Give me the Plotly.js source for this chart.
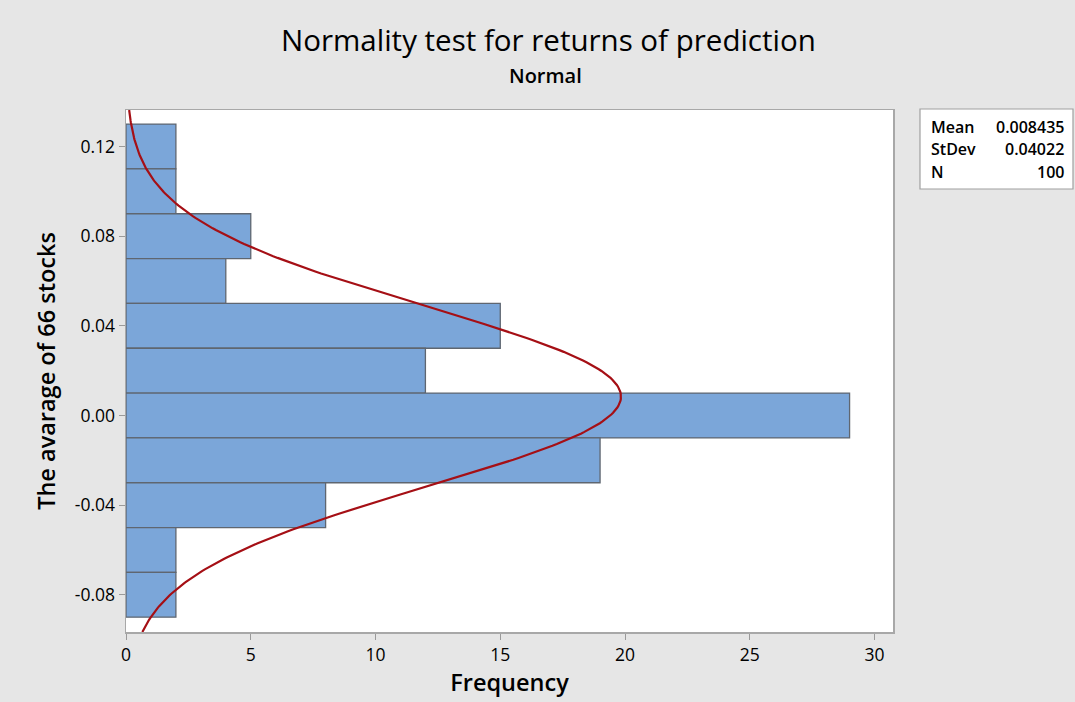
<!DOCTYPE html>
<html>
<head>
<meta charset="utf-8">
<script src="https://cdn.plot.ly/plotly-3.0.1.min.js"></script>
<style>html,body{margin:0;padding:0;background:#e6e6e6;}#chart{width:1075px;height:702px;}</style>
</head>
<body>
<div id="chart"></div>
<script>
// Histogram data (bin centres and frequencies)
const binCenters = [0.12, 0.10, 0.08, 0.06, 0.04, 0.02, 0.00, -0.02, -0.04, -0.06, -0.08];
const frequencies = [2, 2, 5, 4, 15, 12, 29, 19, 8, 2, 2];
const binWidth = 0.02;
// Fitted normal statistics
const statLabels = ["Mean", "StDev", "N"];
const statValues = ["0.008435", "0.04022", "100"];
const meanVal = 0.008435, sdVal = 0.04022, nVal = 100;
// Tick labels
const yTickVals = [-0.08, -0.04, 0.00, 0.04, 0.08, 0.12];
const yTickText = ["-0.08", "-0.04", "0.00", "0.04", "0.08", "0.12"];
const xTickVals = [0, 5, 10, 15, 20, 25, 30];

const yMin = -0.0966, yMax = 0.1363;

// fitted normal curve scaled to histogram
const curveY = [], curveX = [];
const steps = 300;
for (let i = 0; i <= steps; i++) {
  const y = yMin + (yMax - yMin) * i / steps;
  const z = (y - meanVal) / sdVal;
  curveY.push(y);
  curveX.push(nVal * binWidth * Math.exp(-0.5 * z * z) / (sdVal * Math.sqrt(2 * Math.PI)));
}

const font = "Open Sans, Noto Sans, sans-serif";

const traces = [
  {
    type: 'bar', orientation: 'h',
    y: binCenters, x: frequencies, width: binWidth,
    marker: {color: '#7ba6d9', line: {color: '#5f6670', width: 1.3}},
    hoverinfo: 'x+y'
  },
  {
    type: 'scatter', mode: 'lines',
    x: curveX, y: curveY,
    line: {color: '#a50f15', width: 2.2},
    hoverinfo: 'skip'
  }
];

const L = 126, R = 893, T = 110, B = 632;
const W = R - L, H = B - T;
const px = x => (x - L) / W;
const py = y => (B - y) / H;

const annotations = [
  {text: 'Normality test for returns of prediction', xref: 'paper', yref: 'paper',
   x: px(548), y: py(40), showarrow: false, xanchor: 'center', yanchor: 'middle',
   font: {family: font, size: 29.5, color: '#000'}},
  {text: 'Normal', xref: 'paper', yref: 'paper',
   x: px(545), y: py(76), showarrow: false, xanchor: 'center', yanchor: 'middle',
   font: {family: font, size: 20, color: '#000', weight: 600}}
];
const rowY = [127, 149, 172];
for (let i = 0; i < statLabels.length; i++) {
  annotations.push({text: statLabels[i], xref: 'paper', yref: 'paper', x: px(929), y: py(rowY[i]),
    showarrow: false, xanchor: 'left', yanchor: 'middle', font: {family: font, size: 16, color: '#000', weight: 600}});
  annotations.push({text: statValues[i], xref: 'paper', yref: 'paper', x: px(1066), y: py(rowY[i]),
    showarrow: false, xanchor: 'right', yanchor: 'middle', font: {family: font, size: 16, color: '#000', weight: 600}});
}

const layout = {
  width: 1075, height: 702,
  paper_bgcolor: '#e6e6e6', plot_bgcolor: '#ffffff',
  margin: {l: L, r: 1075 - R, t: T, b: 702 - B, pad: 0},
  showlegend: false,
  bargap: 0,
  font: {family: font, color: '#000'},
  xaxis: {
    range: [0, 30.74], tickvals: xTickVals,
    ticks: 'outside', ticklen: 6, tickcolor: '#9a9a9a', tickwidth: 1,
    showgrid: false, zeroline: false,
    showline: true, linecolor: '#a8a8a8', linewidth: 1.5, mirror: true,
    tickfont: {family: font, size: 17.5, color: '#000'},
    title: {text: 'Frequency', font: {family: font, size: 23.5, color: '#000', weight: 600}, standoff: 10}
  },
  yaxis: {
    range: [yMin, yMax], tickvals: yTickVals, ticktext: yTickText,
    ticks: 'outside', ticklen: 6, tickcolor: '#9a9a9a', tickwidth: 1,
    showgrid: false, zeroline: false,
    showline: true, linecolor: '#a8a8a8', linewidth: 1.5, mirror: true,
    tickfont: {family: font, size: 17.5, color: '#000'},
    title: {text: 'The avarage of 66 stocks', font: {family: font, size: 23.5, color: '#000', weight: 600}, standoff: 12}
  },
  shapes: [
    {type: 'rect', xref: 'paper', yref: 'paper', x0: px(920), x1: px(1073), y0: py(189), y1: py(109),
     fillcolor: '#ffffff', line: {color: '#a0a0a0', width: 1.2}}
  ],
  annotations: annotations
};

Plotly.newPlot('chart', traces, layout, {displayModeBar: false, staticPlot: true});
</script>
</body>
</html>
